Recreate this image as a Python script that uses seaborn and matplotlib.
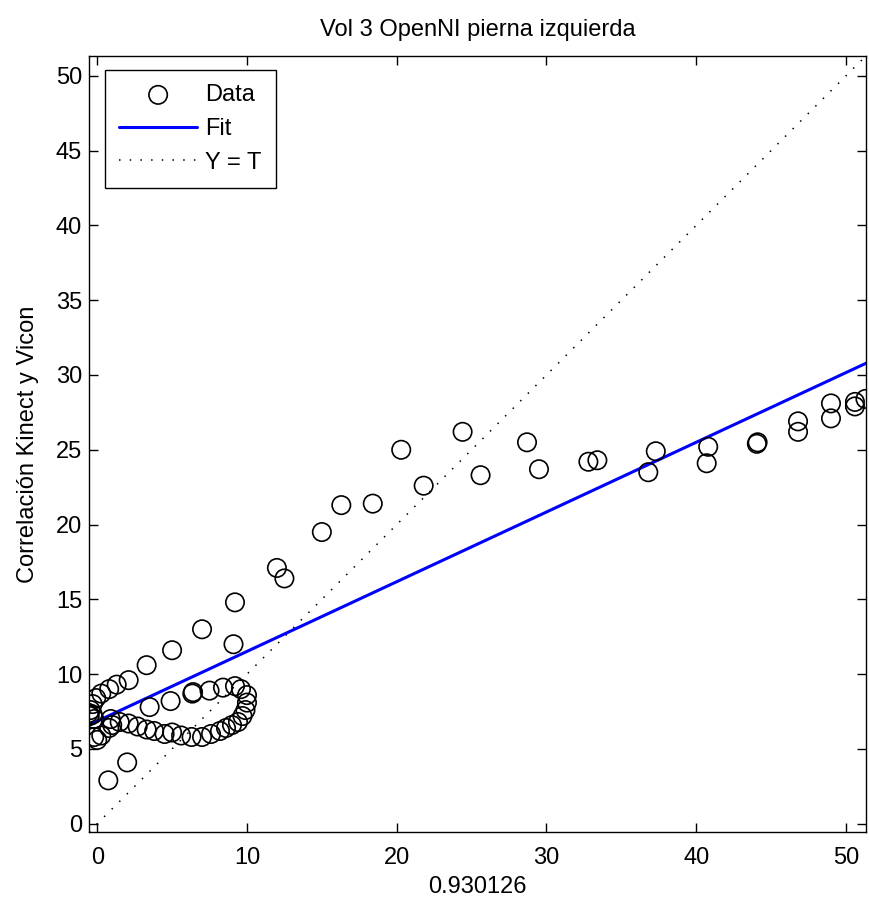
import matplotlib
matplotlib.use('Agg')
import matplotlib.pyplot as plt
import numpy as np
import pandas as pd
import seaborn as sns

# targets (x) and outputs (y)
target = [51.3, 50.6, 50.6, 49.0, 49.0, 46.8, 46.8, 44.1, 44.05, 40.8, 40.7, 37.3, 36.8,
          33.4, 32.8, 29.5, 28.7, 25.6, 24.4, 21.8, 20.3, 18.4, 16.3, 15.0, 12.5, 12.0,
          9.2, 7.0, 9.1, 5.0, 3.3, 2.1, 1.3, 0.8, 0.27, -0.07, -0.3, -0.45, -0.55, -0.5,
          -0.3, -0.2, 0.74, 2.0,
          6.4, 6.35, 7.5, 8.4, 9.2, 9.6, 10.0, 10.0, 9.9, 9.7, 9.4, 9.0, 8.6, 8.2, 7.6,
          7.0, 6.3, 5.6, 5.0, 4.5, 3.8, 3.3, 2.7, 2.1, 1.5, 0.9, 0.8, 0.27, -0.2, 0.0,
          4.9, 3.5, 1.0]
output = [28.4, 28.2, 27.9, 28.1, 27.1, 26.9, 26.2, 25.5, 25.4, 25.2, 24.1, 24.9, 23.5,
          24.3, 24.2, 23.7, 25.5, 23.3, 26.2, 22.6, 25.0, 21.4, 21.3, 19.5, 16.4, 17.1,
          14.8, 13.0, 12.0, 11.6, 10.6, 9.6, 9.3, 9.0, 8.7, 8.4, 8.0, 7.6, 7.4, 7.2,
          7.3, 7.0, 2.9, 4.1,
          8.8, 8.7, 8.9, 9.1, 9.2, 9.0, 8.6, 8.1, 7.6, 7.2, 6.8, 6.6, 6.4, 6.2, 6.0,
          5.8, 5.8, 5.9, 6.1, 6.0, 6.2, 6.3, 6.5, 6.7, 6.8, 7.0, 6.4, 5.9, 5.8, 5.6,
          8.2, 7.8, 6.6]

fit_slope = 0.466
fit_intercept = 6.86
limits = [-0.55, 51.33]
r_value = '0.930126'

sns.set_style('ticks')
plt.rcParams['font.family'] = ['Liberation Sans', 'DejaVu Sans']
plt.rcParams['text.color'] = 'black'
plt.rcParams['axes.labelcolor'] = 'black'
fs = 17

df = pd.DataFrame({'T': target, 'Y': output})
lims = np.array(limits)
line_df = pd.DataFrame({'x': lims, 'fit': fit_slope * lims + fit_intercept, 'ident': lims})

fig = plt.figure(figsize=(8.69, 9.05), dpi=100)
ax = fig.add_axes([0.1024, 0.0807, 0.894, 0.8575])

sns.scatterplot(data=df, x='T', y='Y', ax=ax, marker='o', s=175, facecolors='none',
                edgecolor='black', linewidth=1.2, label='Data', zorder=3)
sns.lineplot(data=line_df, x='x', y='fit', ax=ax, color='#0000ff', linewidth=2.2,
             label='Fit', zorder=2)
sns.lineplot(data=line_df, x='x', y='ident', ax=ax, color='black', linewidth=1.1,
             linestyle=(0, (1, 6)), label='Y = T', zorder=1)

ax.set_xlim(limits)
ax.set_ylim(limits)
ax.set_xticks(range(0, 51, 10))
ax.set_yticks(range(0, 51, 5))
ax.tick_params(direction='in', length=6.5, width=1, top=True, right=True,
               labelsize=fs, colors='black')
ax.tick_params(axis='x', pad=11)
ax.tick_params(axis='y', pad=5)
for sp in ax.spines.values():
    sp.set_visible(True)
    sp.set_linewidth(1)
    sp.set_color('black')

ax.set_title('Vol 3 OpenNI pierna izquierda', fontsize=fs, pad=14, color='black')
ax.set_xlabel(r_value, fontsize=fs, labelpad=5)
ax.set_ylabel('Correlación Kinect y Vicon', fontsize=fs, labelpad=12)

leg = ax.legend(loc='upper left', bbox_to_anchor=(0.0206, 0.982), borderaxespad=0,
                fontsize=fs, frameon=True, fancybox=False, edgecolor='black',
                handlelength=3.3, handletextpad=0.35, labelspacing=0.5, borderpad=0.6)
leg.get_frame().set_linewidth(1)
leg.get_frame().set_alpha(1)

fig.savefig('out.png', dpi=100, facecolor='white')
